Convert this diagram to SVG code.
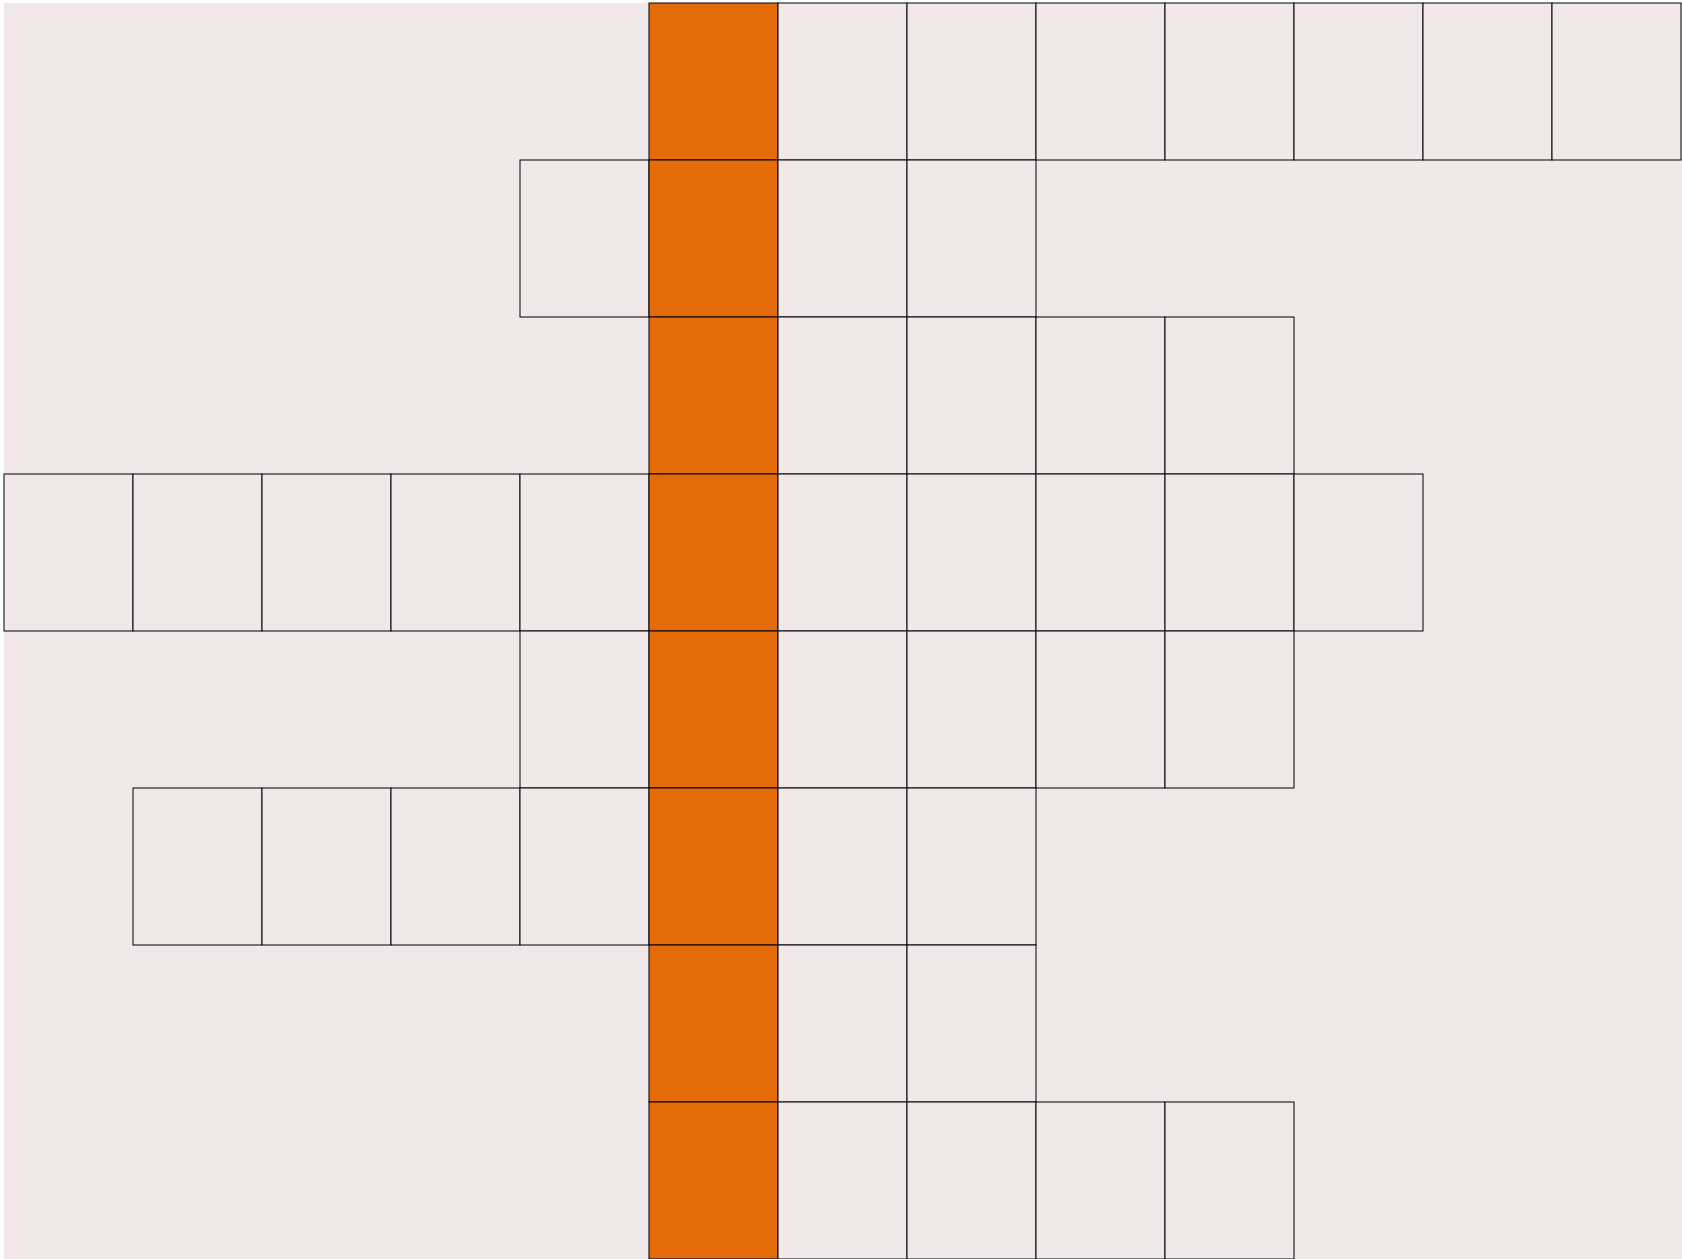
<svg xmlns="http://www.w3.org/2000/svg" width="1682" height="1259" viewBox="0 0 1682 1259">
<style>
.c{fill:#f1e8e9;stroke:#000;stroke-width:1}
.o{fill:#e36c09;stroke:#000;stroke-width:1}
</style>
<rect x="0" y="0" width="1682" height="1259" fill="#ffffff"/>
<rect x="4" y="3" width="1678" height="1256" fill="#f1e8e9"/>
<g id="row0">
<rect class="o" x="649" y="3" width="129" height="157"/>
<rect class="c" x="778" y="3" width="129" height="157"/>
<rect class="c" x="907" y="3" width="129" height="157"/>
<rect class="c" x="1036" y="3" width="129" height="157"/>
<rect class="c" x="1165" y="3" width="129" height="157"/>
<rect class="c" x="1294" y="3" width="129" height="157"/>
<rect class="c" x="1423" y="3" width="129" height="157"/>
<rect class="c" x="1552" y="3" width="129" height="157"/>
</g>
<g id="row1">
<rect class="c" x="520" y="160" width="129" height="157"/>
<rect class="o" x="649" y="160" width="129" height="157"/>
<rect class="c" x="778" y="160" width="129" height="157"/>
<rect class="c" x="907" y="160" width="129" height="157"/>
</g>
<g id="row2">
<rect class="o" x="649" y="317" width="129" height="157"/>
<rect class="c" x="778" y="317" width="129" height="157"/>
<rect class="c" x="907" y="317" width="129" height="157"/>
<rect class="c" x="1036" y="317" width="129" height="157"/>
<rect class="c" x="1165" y="317" width="129" height="157"/>
</g>
<g id="row3">
<rect class="c" x="4" y="474" width="129" height="157"/>
<rect class="c" x="133" y="474" width="129" height="157"/>
<rect class="c" x="262" y="474" width="129" height="157"/>
<rect class="c" x="391" y="474" width="129" height="157"/>
<rect class="c" x="520" y="474" width="129" height="157"/>
<rect class="o" x="649" y="474" width="129" height="157"/>
<rect class="c" x="778" y="474" width="129" height="157"/>
<rect class="c" x="907" y="474" width="129" height="157"/>
<rect class="c" x="1036" y="474" width="129" height="157"/>
<rect class="c" x="1165" y="474" width="129" height="157"/>
<rect class="c" x="1294" y="474" width="129" height="157"/>
</g>
<g id="row4">
<rect class="c" x="520" y="631" width="129" height="157"/>
<rect class="o" x="649" y="631" width="129" height="157"/>
<rect class="c" x="778" y="631" width="129" height="157"/>
<rect class="c" x="907" y="631" width="129" height="157"/>
<rect class="c" x="1036" y="631" width="129" height="157"/>
<rect class="c" x="1165" y="631" width="129" height="157"/>
</g>
<g id="row5">
<rect class="c" x="133" y="788" width="129" height="157"/>
<rect class="c" x="262" y="788" width="129" height="157"/>
<rect class="c" x="391" y="788" width="129" height="157"/>
<rect class="c" x="520" y="788" width="129" height="157"/>
<rect class="o" x="649" y="788" width="129" height="157"/>
<rect class="c" x="778" y="788" width="129" height="157"/>
<rect class="c" x="907" y="788" width="129" height="157"/>
</g>
<g id="row6">
<rect class="o" x="649" y="945" width="129" height="157"/>
<rect class="c" x="778" y="945" width="129" height="157"/>
<rect class="c" x="907" y="945" width="129" height="157"/>
</g>
<g id="row7">
<rect class="o" x="649" y="1102" width="129" height="157"/>
<rect class="c" x="778" y="1102" width="129" height="157"/>
<rect class="c" x="907" y="1102" width="129" height="157"/>
<rect class="c" x="1036" y="1102" width="129" height="157"/>
<rect class="c" x="1165" y="1102" width="129" height="157"/>
</g>
</svg>
